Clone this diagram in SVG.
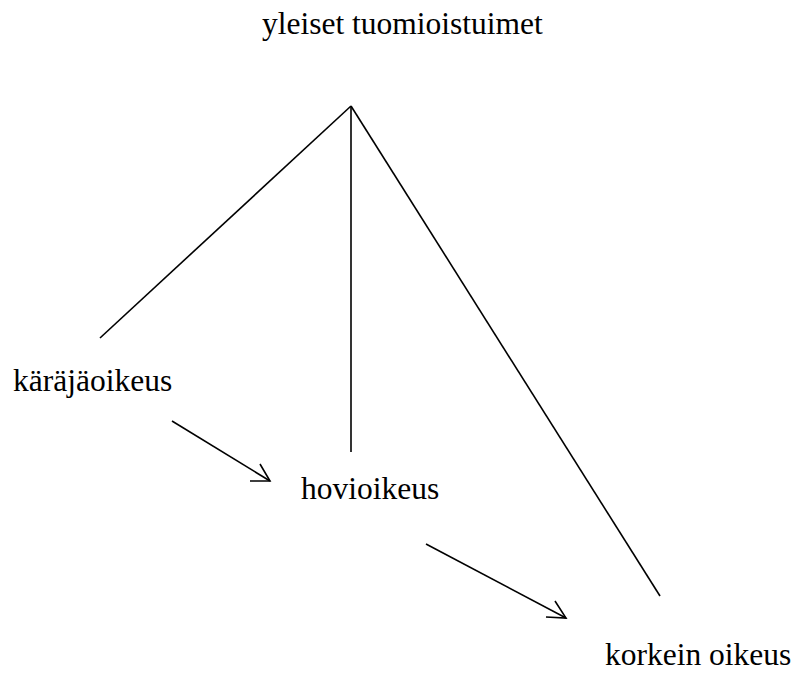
<svg xmlns="http://www.w3.org/2000/svg" width="798" height="675" viewBox="0 0 798 675">
<style>
text{font-family:"Liberation Serif","Times New Roman",serif;font-size:31.5px;fill:#000}
.ln{stroke:#000;stroke-width:1.6;fill:none;stroke-linecap:butt}
</style>
<rect width="798" height="675" fill="#fff"/>
<g id="connectors">
<line class="ln" x1="351" y1="106" x2="100" y2="338"/>
<line class="ln" x1="351" y1="106" x2="351" y2="452"/>
<line class="ln" x1="351" y1="106" x2="660" y2="596"/>
<line class="ln" x1="172" y1="421" x2="270" y2="481"/>
<polyline class="ln" points="260,464 270,481 250,481"/>
<line class="ln" x1="426" y1="544" x2="566" y2="618"/>
<polyline class="ln" points="555,601 566,618 546,617"/>
</g>
<g id="root"><text x="262" y="34">yleiset tuomioistuimet</text></g>
<g id="karajaoikeus"><text x="13" y="391">käräjäoikeus</text></g>
<g id="hovioikeus"><text x="301" y="499">hovioikeus</text></g>
<g id="korkein"><text x="605" y="665">korkein oikeus</text></g>
</svg>
